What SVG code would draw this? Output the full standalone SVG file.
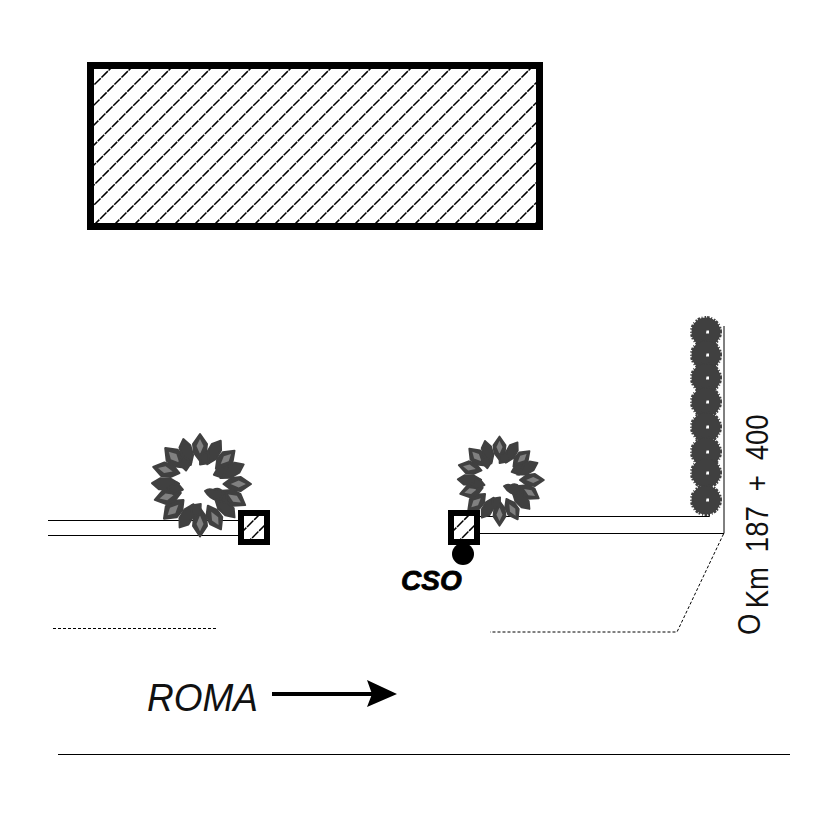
<svg xmlns="http://www.w3.org/2000/svg" width="827" height="827" viewBox="0 0 827 827">
<style>
text{font-family:"Liberation Sans",Arial,sans-serif;fill:#111}
.l{fill:none;stroke:#000;stroke-width:1}
.d{fill:none;stroke:#000;stroke-width:1;stroke-dasharray:3 2}
.h{stroke:#000;stroke-width:1.5;stroke-dasharray:9 1}
.sq{fill:#fff;stroke:#000;stroke-width:6}
.dk{fill:#404040;stroke:#404040;stroke-width:2;stroke-linejoin:round}
.gr{fill:#808080}
.hc{fill:#404040;stroke:#404040;stroke-width:3;stroke-dasharray:1.500 1 2.500 1.500 1 2}
</style>
<defs>
<clipPath id="c1"><rect x="93" y="68" width="444" height="156"/></clipPath>
<clipPath id="c2"><rect x="243" y="515" width="22" height="25"/></clipPath>
<clipPath id="c3"><rect x="453" y="515" width="22" height="25"/></clipPath>
<g id="lf"><path class="dk" d="M0 -50 L7 -40 L6 -31 L0 -23 L-6 -31 L-7 -40Z"/><path class="gr" d="M0 -45 L3.500 -38 L0 -30 L-3.500 -38Z"/></g>
<g id="lf2"><path class="dk" d="M0 -48 L5 -40 L5 -30 L0 -21 L-6 -30 L-6 -41Z"/><path class="dk" d="M-5 -32 L-11 -26 L-6 -17 L1 -23Z"/></g>
<g id="wreath">
<use href="#lf" transform="rotate(0) scale(1 1)"/>
<use href="#lf2" transform="rotate(24) rotate(6 0 -35)"/>
<use href="#lf" transform="rotate(46) scale(1 .96)"/>
<use href="#lf2" transform="rotate(68) rotate(-8 0 -35)"/>
<use href="#lf" transform="rotate(90) scale(1 1.02)"/>
<use href="#lf" transform="rotate(112) rotate(10 0 -35)"/>
<use href="#lf2" transform="rotate(134)"/>
<use href="#lf" transform="rotate(157) rotate(-6 0 -35)"/>
<use href="#lf" transform="rotate(180) scale(1 1.05)"/>
<use href="#lf2" transform="rotate(203) rotate(8 0 -35)"/>
<use href="#lf" transform="rotate(226) scale(1.1 1)"/>
<use href="#lf" transform="rotate(249) rotate(6 0 -35) translate(0 2)"/>
<use href="#lf2" transform="rotate(271)"/>
<use href="#lf" transform="rotate(293) rotate(-10 0 -35)"/>
<use href="#lf" transform="rotate(316) scale(1.1 1)"/>
<use href="#lf2" transform="rotate(338) rotate(6 0 -35)"/>
<path class="dk" d="M5 7 Q9 4 13 6 Q19 3 23 8 Q24 14 17 16 Q10 15 5 7Z"/>
</g>
<g id="bush"><circle class="hc" r="14.500"/><circle r="14" fill="#404040"/><path d="M0.500 -1.500h2.500v3h-3z" fill="#fff"/></g>
</defs>
<g id="building">
<rect x="90.500" y="65.500" width="449" height="161" fill="#fff"/>
<g clip-path="url(#c1)">
<path class="h" d="M-67 226 L95 64 M-47 226 L115 64 M-27 226 L135 64 M-7 226 L155 64 M13 226 L175 64 M33 226 L195 64 M53 226 L215 64 M73 226 L235 64 M93 226 L255 64 M113 226 L275 64 M133 226 L295 64 M153 226 L315 64 M173 226 L335 64 M193 226 L355 64 M213 226 L375 64 M233 226 L395 64 M253 226 L415 64 M273 226 L435 64 M293 226 L455 64 M313 226 L475 64 M333 226 L495 64 M353 226 L515 64 M373 226 L535 64 M393 226 L555 64 M413 226 L575 64 M433 226 L595 64 M453 226 L615 64 M473 226 L635 64 M493 226 L655 64 M513 226 L675 64 M533 226 L695 64"/>
</g>
<rect x="90.500" y="65.500" width="449" height="161" fill="none" stroke="#000" stroke-width="7"/>
</g>
<g id="connectors">
<path class="l" d="M48 520.500H240M48 535.500H240M480 516.500H709.500V505M480 533.500H724V326"/>
<path class="d" d="M723.500 534L677 632H490M53 628.500H217"/>
<path class="l" d="M58 754.500H790"/>
<path d="M272 694H372" stroke="#000" stroke-width="4" fill="none"/>
<path d="M367 680L397 694L367 707L372 694Z" fill="#000"/>
</g>
<g id="shrub-1"><use href="#wreath" transform="translate(200 484)"/></g>
<g id="shrub-2"><use href="#wreath" transform="translate(499.500 480) scale(.87)"/></g>
<g id="hedge">
<use href="#bush" transform="translate(706 332)"/><use href="#bush" transform="translate(706 355)"/><use href="#bush" transform="translate(706 378)"/><use href="#bush" transform="translate(706 402)"/><use href="#bush" transform="translate(706 427)"/><use href="#bush" transform="translate(706 452)"/><use href="#bush" transform="translate(706 473)"/><use href="#bush" transform="translate(706 500)"/>
</g>
<g id="pole-1">
<rect class="sq" x="241" y="513" width="26" height="29"/>
<g clip-path="url(#c2)"><path class="h" d="M240 534L264 510M245 545L275 515"/></g>
</g>
<g id="pole-2">
<rect class="sq" x="451" y="513" width="26" height="29"/>
<g clip-path="url(#c3)"><path class="h" d="M450 534L474 510M455 545L485 515"/></g>
</g>
<g id="cso">
<circle cx="463" cy="554" r="11" fill="#000"/>
<text x="401" y="590" font-size="28" font-weight="bold" font-style="italic" style="fill:#000;stroke:#000;stroke-width:.8">CSO</text>
</g>
<text id="roma" x="147" y="711" font-size="38" font-style="italic" textLength="111" lengthAdjust="spacingAndGlyphs">ROMA</text>
<text id="km" transform="translate(760 635) rotate(-90) scale(.86 1)" font-size="32" word-spacing="8.500"><tspan>O</tspan> <tspan x="31" dy="8">Km 187 + 400</tspan></text>
</svg>
